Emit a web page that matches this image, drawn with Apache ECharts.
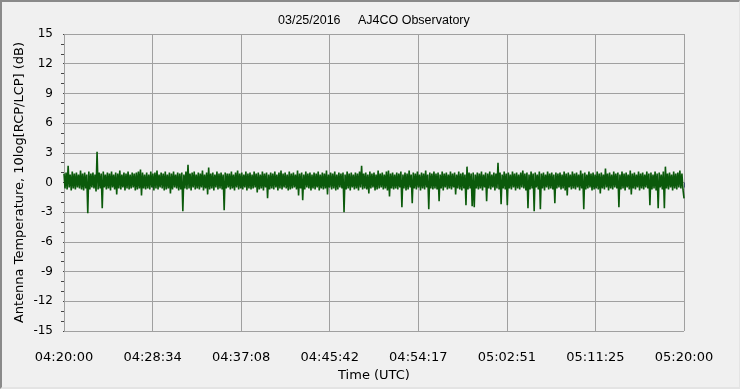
<!DOCTYPE html>
<html>
<head>
<meta charset="utf-8">
<script src="https://cdn.jsdelivr.net/npm/echarts@6/dist/echarts.min.js"></script>
<style>
html,body{margin:0;padding:0;background:#f0f0f0;}
#chart{position:absolute;left:0;top:0;width:740px;height:389px;}
#frame{position:absolute;left:0;top:0;width:740px;height:389px;box-sizing:border-box;
  border-left:2px solid #8a8a8a;border-top:2px solid #8a8a8a;border-right:1px solid #e4e4e4;border-bottom:2px solid #e4e4e4;pointer-events:none;}
</style>
</head>
<body>
<div id="chart"></div>
<div id="frame"></div>
<script>
const titleText = '03/25/2016     AJ4CO Observatory';
const xName = 'Time (UTC)';
const yName = 'Antenna Temperature, 10log[RCP/LCP] (dB)';
const tickLabels = ['04:20:00','04:28:34','04:37:08','04:45:42','04:54:17','05:02:51','05:11:25','05:20:00'];
const spanSeconds = 3600;      // 04:20:00 .. 05:20:00
const sampleStep = 6;          // seconds between samples
const yMin = -15, yMax = 15, yStep = 3;
const values = [
 0.9,-0.6,1.0,-0.7,1.7,-0.5,0.8,-0.8,1.1,-0.6,0.9,-0.7,1.0,-0.5,0.8,-0.6,1.2,-0.7,0.9,-0.8,
 1.0,-0.6,0.8,-3.1,1.1,-0.7,0.9,-0.5,1.0,-0.6,0.8,-0.9,3.1,-0.7,1.0,-0.6,0.9,-2.6,1.1,-0.5,
 0.8,-0.7,1.0,-0.6,0.9,-0.8,1.1,-0.5,0.8,-0.7,1.0,-1.2,0.9,-0.6,1.2,-0.7,0.8,-0.5,1.0,-0.8,
 0.9,-0.6,1.1,-0.7,0.8,-0.6,1.0,-0.5,0.9,-0.8,1.0,-0.7,1.1,-0.6,1.3,-1.3,1.0,-0.6,0.8,-0.7,
 1.0,-0.6,0.8,-0.7,1.1,-0.5,0.9,-0.8,1.0,-0.6,1.2,-0.7,0.8,-0.5,1.0,-0.6,0.9,-0.8,1.1,-0.7,
 0.8,-0.6,1.0,-1.1,0.9,-0.7,1.1,-0.5,0.8,-0.6,1.0,-0.8,0.9,-0.7,1.0,-2.9,0.8,-0.6,1.1,-0.7,
 1.8,-0.6,0.9,-0.8,1.0,-0.5,1.1,-0.7,0.8,-0.6,1.0,-0.7,0.9,-0.5,1.2,-0.8,0.8,-0.6,1.0,-1.2,
 1.5,-0.7,0.9,-0.6,1.0,-0.8,0.8,-0.5,1.1,-0.7,0.9,-0.6,1.0,-0.7,0.8,-2.8,1.0,-0.6,0.9,-0.5,
 0.9,-0.7,1.1,-0.6,0.8,-0.8,1.0,-0.5,1.2,-0.7,0.9,-0.6,1.0,-0.7,0.8,-0.5,1.1,-0.8,0.9,-0.6,
 1.0,-0.7,0.8,-0.6,1.1,-0.5,0.9,-1.0,1.0,-0.7,0.8,-0.6,1.1,-0.8,0.9,-0.5,1.0,-1.6,0.8,-0.7,
 1.0,-0.6,0.9,-0.7,1.1,-0.5,0.8,-0.8,1.0,-0.6,1.2,-0.7,0.9,-0.5,1.0,-0.6,0.8,-0.8,1.1,-0.7,
 0.9,-0.6,1.0,-0.5,0.8,-0.7,1.2,-1.3,0.9,-0.6,1.0,-1.8,0.8,-0.7,1.1,-0.5,0.9,-0.6,1.0,-0.8,
 0.8,-0.6,1.0,-0.7,0.9,-0.5,1.1,-0.8,0.8,-0.6,1.0,-0.7,0.9,-0.6,1.2,-1.2,0.8,-0.5,1.0,-0.7,
 0.9,-0.6,1.1,-0.8,0.8,-0.7,1.0,-0.5,0.9,-0.6,1.0,-3.0,0.8,-0.7,1.1,-0.6,0.9,-0.8,1.0,-0.5,
 0.8,-0.7,1.0,-0.6,0.9,-0.8,1.1,-0.5,1.7,-0.7,0.9,-0.6,1.0,-0.7,0.8,-1.1,1.1,-0.6,0.9,-0.5,
 1.0,-0.8,0.8,-0.7,1.2,-0.6,0.9,-0.5,1.0,-0.7,0.8,-0.6,1.1,-0.8,1.2,-1.4,0.9,-0.6,1.0,-0.7,
 0.8,-0.6,1.0,-0.7,0.9,-0.5,1.1,-2.5,0.8,-0.6,1.0,-0.8,0.9,-0.7,1.2,-0.5,0.8,-2.1,1.0,-0.6,
 0.9,-0.7,1.1,-0.5,0.8,-0.8,1.0,-0.6,0.9,-0.7,1.2,-0.5,0.8,-2.7,1.0,-0.6,0.9,-0.7,1.1,-0.6,
 0.9,-0.7,1.0,-1.9,0.8,-0.6,1.1,-0.8,0.9,-0.5,1.0,-0.7,0.8,-0.6,1.1,-0.7,0.9,-0.5,1.0,-1.2,
 0.8,-0.6,1.1,-0.7,0.9,-0.8,1.0,-0.6,0.8,-2.3,1.6,-0.7,1.0,-0.6,0.9,-2.4,1.0,-2.5,0.8,-0.6,
 1.0,-0.7,0.9,-0.6,1.1,-0.8,0.8,-0.5,1.0,-1.9,0.9,-0.6,1.1,-0.7,0.8,-0.5,1.0,-0.8,0.9,-0.6,
 2.0,-0.7,1.0,-2.2,0.8,-0.6,1.1,-0.7,0.9,-2.3,1.0,-0.6,0.8,-0.7,1.1,-0.5,0.9,-0.8,1.0,-0.6,
 0.8,-0.7,1.0,-0.5,1.2,-0.6,0.9,-0.8,1.0,-2.6,0.8,-0.7,1.1,-0.6,0.9,-2.9,1.0,-0.5,0.8,-0.7,
 1.1,-2.7,0.9,-0.6,1.0,-0.8,0.8,-0.5,1.1,-0.7,0.9,-0.6,1.0,-0.7,0.8,-2.1,1.0,-0.6,0.9,-0.5,
 1.0,-0.7,0.8,-0.6,1.1,-0.8,0.9,-1.3,1.0,-0.5,0.8,-0.7,1.1,-0.6,0.9,-0.7,1.0,-0.5,0.8,-0.8,
 1.2,-0.6,0.9,-2.7,1.0,-0.7,0.8,-0.6,1.1,-0.5,0.9,-0.8,1.0,-0.7,0.8,-0.6,1.1,-0.7,0.9,-1.1,
 1.0,-0.6,0.8,-0.7,1.4,-0.5,0.9,-0.8,1.0,-0.6,0.8,-0.7,1.1,-0.5,0.9,-0.6,1.0,-2.5,0.8,-0.7,
 1.1,-0.6,0.9,-0.8,1.0,-0.5,0.8,-0.7,1.2,-1.2,0.9,-0.6,1.0,-0.7,0.8,-0.5,1.1,-0.8,0.9,-0.6,
 1.0,-0.7,0.8,-0.5,1.1,-0.6,0.9,-2.3,1.0,-0.7,0.8,-0.6,1.1,-0.8,0.9,-2.6,1.0,-0.5,0.8,-0.7,
 1.1,-2.6,1.6,-0.6,0.9,-0.7,1.0,-0.5,0.8,-0.8,1.1,-0.6,0.9,-0.7,1.0,-0.5,1.2,-0.6,0.9,-0.7,
 -1.6
];

const data = values.map((v, i) => [i * sampleStep, v]);
const xInterval = spanSeconds / (tickLabels.length - 1);

const chart = echarts.init(document.getElementById('chart'), null, {renderer: 'canvas'});
chart.setOption({
  animation: false,
  backgroundColor: '#f0f0f0',
  title: {
    text: titleText, left: 273, top: 9,
    textStyle: {fontFamily: 'Liberation Sans', fontSize: 12.5, fontWeight: 'normal', color: '#000'}
  },
  grid: {left: 64, right: 56, top: 34, bottom: 58, containLabel: false},
  xAxis: {
    type: 'value', min: 0, max: spanSeconds, interval: xInterval,
    offset: 3,
    name: xName, nameLocation: 'middle', nameGap: 31,
    nameTextStyle: {fontFamily: 'DejaVu Sans', fontSize: 13, color: '#000'},
    axisLine: {show: false},
    axisTick: {show: true, length: 5, lineStyle: {color: '#3a4a6a', width: 1}},
    minorTick: {show: true, splitNumber: 6, length: 2, lineStyle: {color: '#555', width: 1}},
    axisLabel: {
      margin: 17, fontFamily: 'DejaVu Sans', fontSize: 13, color: '#000',
      formatter: v => tickLabels[Math.round(v / xInterval)] || ''
    },
    splitLine: {show: true, lineStyle: {color: '#a0a0a0', width: 1}}
  },
  yAxis: {
    type: 'value', min: yMin, max: yMax, interval: yStep,
    offset: 5,
    name: yName, nameLocation: 'middle', nameGap: 33, nameRotate: 90,
    nameMoveOverlap: false,
    nameTextStyle: {fontFamily: 'DejaVu Sans', fontSize: 13, color: '#000'},
    axisLine: {show: false},
    axisTick: {show: true, length: 1, lineStyle: {color: '#444', width: 1}},
    minorTick: {show: true, splitNumber: 3, length: 3, lineStyle: {color: '#444', width: 1}},
    axisLabel: {margin: 6, fontFamily: 'DejaVu Sans', fontSize: 12, color: '#000'},
    splitLine: {show: true, lineStyle: {color: '#a0a0a0', width: 1}}
  },
  series: [{
    type: 'line', data: data, showSymbol: false, symbol: 'none',
    lineStyle: {color: '#0b5a0b', width: 1.6}, itemStyle: {color: '#0b5a0b'},
    silent: true
  }]
});
</script>
</body>
</html>
